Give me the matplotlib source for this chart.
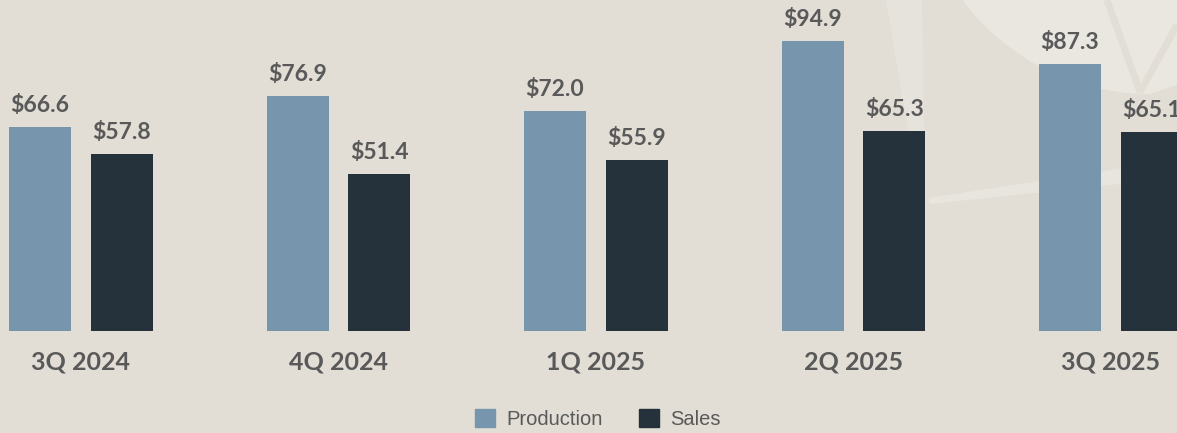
import matplotlib
matplotlib.use("Agg")
import matplotlib.pyplot as plt
from matplotlib.patches import Polygon, Patch
import numpy as np

quarters = ["3Q 2024", "4Q 2024", "1Q 2025", "2Q 2025", "3Q 2025"]
production = [66.6, 76.9, 72.0, 94.9, 87.3]
sales = [57.8, 51.4, 55.9, 65.3, 65.1]

bg = "#e2ded6"
prod_color = "#7795ad"
sales_color = "#25313b"
label_color = "#595959"

W, H = 1177, 433
fig = plt.figure(figsize=(W / 100, H / 100), dpi=100)
fig.patch.set_facecolor(bg)

# faint leaf shapes in the background (figure pixel coords, origin top-left)
deco = fig.add_axes([0, 0, 1, 1])
deco.set_xlim(0, W)
deco.set_ylim(H, 0)
deco.axis("off")
ang = np.linspace(np.pi * 0.82, np.pi * 0.5, 60)
cx, cy, r = 1150, -140, 234
arc = np.column_stack([cx + r * np.cos(ang), cy + r * np.sin(ang)])
arc = arc[arc[:, 1] >= 0]
light = np.vstack([[[arc[0, 0], 0]], arc, [[1177, 85], [1177, 0]]])
deco.add_patch(Polygon(light, closed=True, color="#eae7e1", lw=0))
deco.plot([1107, 1140], [0, 92], color="#e2ded6", lw=5, solid_capstyle="butt")
deco.plot([1177, 1140], [25, 92], color="#e2ded6", lw=5, solid_capstyle="butt")
# thin light strip and band
deco.add_patch(Polygon([[886, 0], [922, 0], [925, 190], [918, 190]],
                       closed=True, color="#e6e3dc", lw=0))
deco.add_patch(Polygon([[928, 198], [1177, 160], [1177, 178], [930, 204]],
                       closed=True, color="#e8e5df", lw=0))

ax = fig.add_axes([0, 102 / H, 1, 331 / H])
ax.set_facecolor("none")
x = np.arange(len(quarters))
width = 0.241
offset = 0.159
ax.bar(x - offset, production, width, color=prod_color)
ax.bar(x + offset, sales, width, color=sales_color)

ax.set_xlim(-81 / 257.5, (W - 81) / 257.5)
ax.set_ylim(0, 331 / 3.056)
ax.axis("off")

for xi, p, s in zip(x, production, sales):
    ax.annotate(f"${p:.1f}", (xi - offset, p), xytext=(0, 11), textcoords="offset points",
                ha="center", va="baseline", fontsize=16.5, fontweight="bold",
                family="Lato", color=label_color)
    ax.annotate(f"${s:.1f}", (xi + offset, s), xytext=(0, 11), textcoords="offset points",
                ha="center", va="baseline", fontsize=16.5, fontweight="bold",
                family="Lato", color=label_color)

for xi, q in zip(x, quarters):
    ax.annotate(q, (xi, 0), xytext=(0, -28), textcoords="offset points",
                ha="center", va="baseline", fontsize=18, fontweight="bold",
                family="Lato", color=label_color)

handles = [Patch(color=prod_color, label="Production"),
           Patch(color=sales_color, label="Sales")]
fig.legend(handles=handles, loc="center", bbox_to_anchor=(598 / W, 1 - 419 / H),
           ncol=2, frameon=False, prop={"family": "Liberation Sans", "size": 14.5},
           handlelength=1.0, handleheight=1.0, handletextpad=0.55, columnspacing=1.8,
           labelcolor=label_color)

fig.savefig("out.png", dpi=100, facecolor=bg)
